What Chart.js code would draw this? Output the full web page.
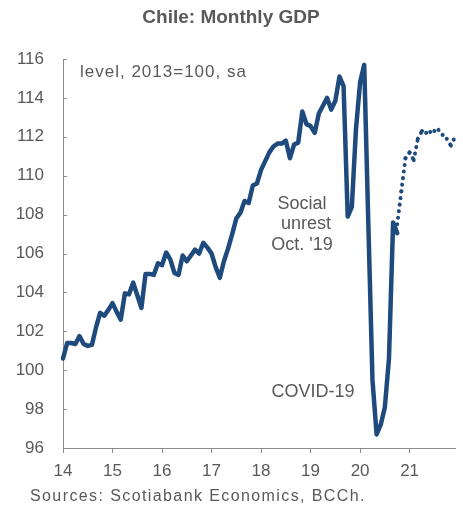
<!DOCTYPE html>
<html>
<head>
<meta charset="utf-8">
<script src="https://cdn.jsdelivr.net/npm/chart.js@4/dist/chart.umd.min.js"></script>
<style>
html,body{margin:0;padding:0;background:#fff;}
#wrap{width:463px;height:506px;position:relative;}
</style>
</head>
<body>
<div id="wrap"><canvas id="c" width="463" height="506"></canvas></div>
<script>
// ---- data ----
const yearLabels = ['14','15','16','17','18','19','20','21'];
const monthNames = ['Jan','Feb','Mar','Apr','May','Jun','Jul','Aug','Sep','Oct','Nov','Dec'];
const categories = [];
yearLabels.forEach(y => monthNames.forEach(m => categories.push(m + '-' + y)));

// IMACEC level, 2013=100, sa (Jan-14 .. Oct-20)
const actual = [
  100.6, 101.4, 101.4, 101.35, 101.75, 101.35, 101.25, 101.3, 102.2, 102.95, 102.8, 103.1,
  103.45, 103.0, 102.6, 103.95, 103.9, 104.5, 103.85, 103.2, 104.95, 104.95, 104.9, 105.5,
  105.4, 106.05, 105.7, 105.0, 104.9, 105.9, 105.6, 105.9, 106.2, 106.0, 106.55, 106.3,
  106.0, 105.3, 104.75, 105.6, 106.25, 107.0, 107.8, 108.1, 108.7, 108.6, 109.5, 109.6,
  110.3, 110.75, 111.2, 111.5, 111.65, 111.65, 111.8, 110.9, 111.6, 111.7, 113.3, 112.65,
  112.55, 112.2, 113.2, 113.6, 114.0, 113.4, 113.85, 115.1, 114.6, 107.9, 108.4, 112.4,
  114.8, 115.7, 107.5, 99.5, 96.7, 97.2, 98.1, 100.6, 107.6, 107.05
];
// projection (Oct-20 .. Dec-21)
const projStart = 'Oct-20';
const projection = [
  107.5, 109.2, 110.9, 111.2, 110.8, 111.9, 112.3, 112.2, 112.25, 112.3, 112.35, 112.1, 111.9, 111.55, 112.0
];
const yTicks = [96, 98, 100, 102, 104, 106, 108, 110, 112, 114, 116];

// ---- build ----
const startIdx = categories.indexOf(projStart);
const projData = categories.map((c, i) => (i >= startIdx && i - startIdx < projection.length) ? projection[i - startIdx] : null);
const actData = categories.map((c, i) => i < actual.length ? actual[i] : null);

const BLUE = '#1F4A7E';
const GREY_TXT = '#595959';
const AXIS = '#8c8c8c';
const FONT = '"Liberation Sans", Arial, sans-serif';

const textPlugin = {
  id: 'texts',
  afterDraw(chart) {
    const ctx = chart.ctx;
    ctx.save();
    // inward y-axis tick marks
    const ys = chart.scales.y;
    const left = chart.chartArea.left;
    ctx.strokeStyle = AXIS;
    ctx.lineWidth = 1;
    ctx.beginPath();
    yTicks.forEach(v => {
      const py = Math.round(ys.getPixelForValue(v)) + 0.5;
      ctx.moveTo(left, py);
      ctx.lineTo(left + 4, py);
    });
    ctx.stroke();

    ctx.fillStyle = GREY_TXT;
    ctx.textBaseline = 'middle';
    // title
    ctx.font = 'bold 19px ' + FONT;
    ctx.textAlign = 'center';
    ctx.fillText('Chile: Monthly GDP', 231, 18);
    // subtitle
    ctx.font = '17px ' + FONT;
    ctx.textAlign = 'left';
    ctx.letterSpacing = '1px';
    ctx.fillText('level, 2013=100, sa', 80, 72);
    ctx.letterSpacing = '0px';
    // annotations
    ctx.font = '18px ' + FONT;
    ctx.textAlign = 'center';
    ctx.fillText('Social', 302, 204);
    ctx.fillText('unrest', 306, 224);
    ctx.fillText("Oct. '19", 302, 245);
    ctx.fillText('COVID-19', 313, 392);
    // source
    ctx.font = '16px ' + FONT;
    ctx.textAlign = 'left';
    ctx.letterSpacing = '1.4px';
    ctx.fillText('Sources: Scotiabank Economics, BCCh.', 30, 497);
    ctx.restore();
  }
};

// dotted segments restart their dash pattern at each vertex (like the original)
const dashA = [0.1, 6.5];
const dashB = [0.1, 6.5001];

new Chart(document.getElementById('c'), {
  type: 'line',
  data: {
    labels: categories,
    datasets: [
      {
        data: actData,
        borderColor: BLUE,
        borderWidth: 4.5,
        pointRadius: 0,
        tension: 0,
        borderJoinStyle: 'round',
        borderCapStyle: 'round',
        spanGaps: false
      },
      {
        data: projData,
        borderColor: BLUE,
        borderWidth: 4,
        pointRadius: 0,
        tension: 0,
        borderCapStyle: 'round',
        borderDash: dashA,
        segment: {
          borderDash: c => (c.p0DataIndex % 2 ? dashA : dashB)
        },
        spanGaps: false
      }
    ]
  },
  options: {
    responsive: false,
    animation: false,
    devicePixelRatio: 1,
    layout: { padding: { left: 0, right: 7, top: 59, bottom: 0 } },
    plugins: { legend: { display: false }, tooltip: { enabled: false }, title: { display: false } },
    scales: {
      x: {
        type: 'category',
        offset: false,
        border: { color: AXIS, width: 1 },
        grid: {
          drawOnChartArea: false,
          tickLength: 5,
          tickColor: c => (c.index % 12 === 0 ? AXIS : 'rgba(0,0,0,0)')
        },
        ticks: {
          autoSkip: false,
          maxRotation: 0,
          minRotation: 0,
          padding: 8,
          color: GREY_TXT,
          font: { family: FONT, size: 17 },
          callback: function (v, i) { return i % 12 === 0 ? yearLabels[i / 12] : ''; }
        },
        afterFit(scale) { scale.height = 58; }
      },
      y: {
        min: 96,
        max: 116,
        border: { color: AXIS, width: 1 },
        grid: { drawOnChartArea: false, drawTicks: false },
        afterBuildTicks(scale) { scale.ticks = yTicks.map(v => ({ value: v })); },
        ticks: {
          padding: 19,
          color: GREY_TXT,
          font: { family: FONT, size: 17 }
        },
        afterFit(scale) { scale.width = 63; }
      }
    }
  },
  plugins: [textPlugin]
});
</script>
</body>
</html>
